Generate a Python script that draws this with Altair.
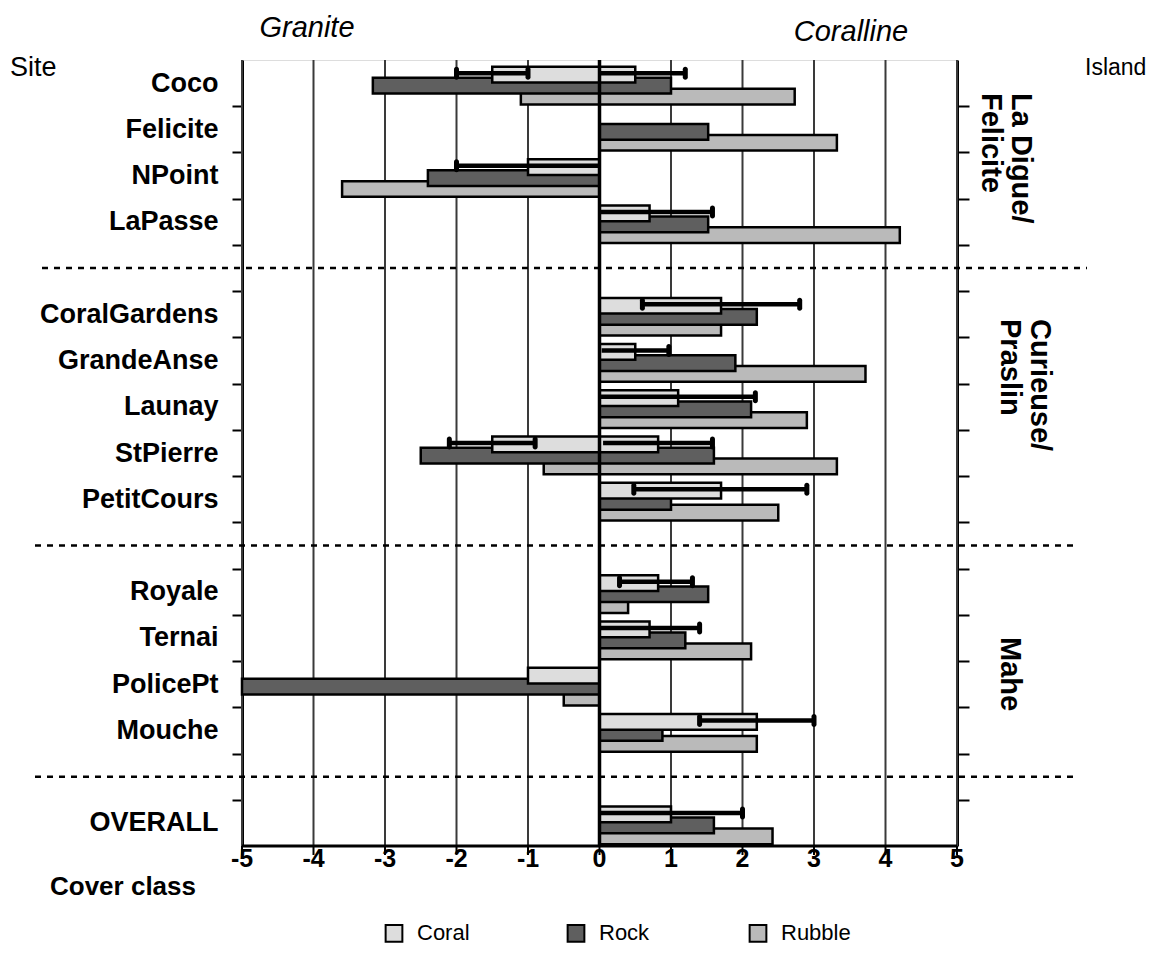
import altair as alt
import pandas as pd

# ---------------- data ----------------
sites = ["Coco", "Felicite", "NPoint", "LaPasse",
         "CoralGardens", "GrandeAnse", "Launay", "StPierre", "PetitCours",
         "Royale", "Ternai", "PolicePt", "Mouche",
         "OVERALL"]
islands = ["La Digue/\nFelicite"] * 4 + ["Curieuse/\nPraslin"] * 5 + ["Mahe"] * 4 + [""]

series = ["Coral", "Rock", "Rubble"]
fills = ["#dddddd", "#5f5f5f", "#bababa"]

# Granite (negative side) and Coralline (positive side) values
coral_granite = [-1.5, None, -1.0, None, None, None, None, -1.5, None, None, None, -1.0, None, None]
coral_coralline = [0.5, None, None, 0.7, 1.7, 0.5, 1.1, 0.82, 1.7, 0.82, 0.7, None, 2.2, 1.0]
rock_granite = [-3.17, None, -2.4, None, None, None, None, -2.5, None, None, None, -5.0, None, None]
rock_coralline = [1.0, 1.52, None, 1.52, 2.2, 1.9, 2.12, 1.6, 1.0, 1.52, 1.2, None, 0.88, 1.6]
rubble_granite = [-1.1, None, -3.6, None, None, None, None, -0.78, None, None, None, -0.5, None, None]
rubble_coralline = [2.73, 3.32, None, 4.2, 1.7, 3.72, 2.9, 3.32, 2.5, 0.4, 2.12, None, 2.2, 2.42]

# error bars on the coral values (low, high)
err_granite_lo = [-2.0, None, -2.0, None, None, None, None, -2.1, None, None, None, None, None, None]
err_granite_hi = [-1.0, None, 0.0, None, None, None, None, -0.9, None, None, None, None, None, None]
err_coralline_lo = [0.0, None, None, 0.0, 0.6, 0.03, 0.02, 0.05, 0.48, 0.28, 0.0, None, 1.4, 0.0]
err_coralline_hi = [1.2, None, None, 1.58, 2.8, 0.97, 2.18, 1.58, 2.9, 1.3, 1.4, None, 3.0, 2.0]

x_ticks = [-5, -4, -3, -2, -1, 0, 1, 2, 3, 4, 5]
x_tick_labels = ["-5", "-4", "-3", "-2", "-1", "0", "1", "2", "3", "4", "5"]

# ---------------- layout helpers ----------------
FONT = "Liberation Sans"
W, H = 715, 786

row_of = []
r = 0
prev = islands[0]
for isl in islands:
    if isl != prev:
        r += 1  # blank separator row
        prev = isl
    row_of.append(r)
    r += 1
n_rows = r
row_labels = [""] * n_rows
for s, rr in zip(sites, row_of):
    row_labels[rr] = s
gap_rows = [i for i in range(n_rows) if row_labels[i] == ""]

offset = {"Coral": 0.315, "Rock": 0.555, "Rubble": 0.79}
half = 0.17

vals = {
    "Coral": (coral_granite, coral_coralline),
    "Rock": (rock_granite, rock_coralline),
    "Rubble": (rubble_granite, rubble_coralline),
}
bar_rows = []
for s in ["Rubble", "Rock", "Coral"]:  # drawing order: coral on top
    g, c = vals[s]
    for i, site in enumerate(sites):
        for v in (g[i], c[i]):
            if v is not None:
                rr = row_of[i]
                bar_rows.append(dict(site=site, series=s, x0=0.0, x1=v,
                                     y0=rr + offset[s] - half, y1=rr + offset[s] + half))
bars_df = pd.DataFrame(bar_rows)

err_rows, cap_rows = [], []
for i, site in enumerate(sites):
    for lo, hi in ((err_granite_lo[i], err_granite_hi[i]), (err_coralline_lo[i], err_coralline_hi[i])):
        if lo is None:
            continue
        yc = row_of[i] + offset["Coral"] - 0.03
        err_rows.append(dict(lo=lo, hi=hi, yc=yc))
        for v in (lo, hi):
            if abs(v) > 0.05:
                cap_rows.append(dict(v=v, yc=yc))
err_df = pd.DataFrame(err_rows)
cap_df = pd.DataFrame(cap_rows)

sep_y = [g + 0.5 for g in gap_rows]
xt_df = pd.DataFrame({"t": x_ticks, "lab": x_tick_labels})

xscale = alt.Scale(domain=[-5, 5], nice=False, zero=False)
yscale = alt.Scale(domain=[0, n_rows], reverse=True, nice=False, zero=False)

label_js = "[" + ",".join("'" + l + "'" for l in row_labels) + "]"
row_px = H / n_rows

# ---------------- layers ----------------
# vertical grid lines, x ticks and x tick labels through the x scale
grid = alt.Chart(xt_df).mark_rule(color="#3a3a3a", strokeWidth=2).encode(
    x=alt.X("t:Q", scale=xscale, axis=None)
)
xticks = alt.Chart(xt_df).mark_rule(color="black", strokeWidth=2).encode(
    x=alt.X("t:Q", scale=xscale, axis=None), y=alt.value(H), y2=alt.value(H + 9)
)
xlabels = alt.Chart(xt_df).mark_text(font=FONT, fontSize=25, fontWeight="bold", color="black",
                                     baseline="middle", align="center").encode(
    x=alt.X("t:Q", scale=xscale, axis=None), y=alt.value(H + 13), text="lab:N"
)
bottom_line = alt.Chart(xt_df.head(1)).mark_rule(color="black", strokeWidth=3).encode(
    x=alt.value(0), x2=alt.value(W), y=alt.value(H)
)

bars = alt.Chart(bars_df).mark_rect(stroke="black", strokeWidth=2.5).encode(
    x=alt.X("x0:Q", scale=xscale, axis=None),
    x2="x1:Q",
    y=alt.Y("y0:Q", scale=yscale, title=None,
            axis=alt.Axis(orient="left", values=list(range(0, n_rows)), grid=False,
                          tickSize=10, tickWidth=2, tickColor="black",
                          tickOpacity=alt.condition("datum.value == 0", alt.value(0), alt.value(1)),
                          domainColor="black", domainWidth=3,
                          labelExpr=label_js + "[datum.value]",
                          labelOffset=row_px / 2, labelPadding=14,
                          labelFont=FONT, labelFontSize=27, labelFontWeight="bold",
                          labelColor="black", labelAlign="right")),
    y2="y1:Q",
    color=alt.Color("series:N", scale=alt.Scale(domain=series, range=fills),
                    legend=alt.Legend(orient="none", legendX=141, legendY=862,
                                      direction="horizontal", title=None,
                                      symbolType="square", symbolSize=280,
                                      symbolStrokeColor="black", symbolStrokeWidth=2,
                                      symbolOpacity=1,
                                      labelFont=FONT, labelFontSize=22, labelColor="black",
                                      labelOffset=12, columnPadding=76, gridAlign="all",
                                      padding=0)),
)

zero_line = alt.Chart(pd.DataFrame({"z": [0]})).mark_rule(color="black", strokeWidth=3.5).encode(
    x=alt.X("z:Q", scale=xscale, axis=None)
)

err = alt.Chart(err_df).mark_rule(color="black", strokeWidth=4.5).encode(
    x=alt.X("lo:Q", scale=xscale, axis=None), x2="hi:Q",
    y=alt.Y("yc:Q", scale=yscale, axis=None),
)
caps = alt.Chart(cap_df).mark_tick(color="black", orient="vertical", size=13,
                                   thickness=5, cornerRadius=2.5, opacity=1).encode(
    x=alt.X("v:Q", scale=xscale, axis=None),
    y=alt.Y("yc:Q", scale=yscale, axis=None),
)

# dashed separators extend beyond the plot area (pixel extents); rows via the y scale
right_axis = alt.Axis(orient="right", values=list(range(1, n_rows)), labels=False,
                      grid=False, tickSize=12, tickWidth=2, tickColor="black",
                      domainColor="black", domainWidth=3)
sep_first = alt.Chart(pd.DataFrame({"ypos": sep_y[:1]})).mark_rule(
    color="black", strokeWidth=2.5, strokeDash=[6, 6]).encode(
    x=alt.value(-200), x2=alt.value(845),
    y=alt.Y("ypos:Q", scale=yscale, title=None, axis=right_axis),
)
sep_rest = alt.Chart(pd.DataFrame({"ypos": sep_y[1:]})).mark_rule(
    color="black", strokeWidth=2.5, strokeDash=[6, 6]).encode(
    x=alt.value(-207), x2=alt.value(833),
    y=alt.Y("ypos:Q", scale=yscale, axis=None),
)

def txt(text, x, y, **kw):
    return alt.Chart(pd.DataFrame({"t": [text]})).mark_text(font=FONT, color="black", **kw).encode(
        x=alt.value(x), y=alt.value(y), text="t:N")

annots = [
    txt("Site", -232, 8, fontSize=27, align="left", baseline="middle"),
    txt("Island", 843, 8, fontSize=23, align="left", baseline="middle"),
    txt("Granite", 65, -32, fontSize=29, fontStyle="italic", align="center", baseline="middle"),
    txt("Coralline", 609, -28, fontSize=29, fontStyle="italic", align="center", baseline="middle"),
    txt("Cover class", -192, 827, fontSize=26, fontWeight="bold", align="left", baseline="middle"),
]

isl_first = {}
for isl, rr in zip(islands, row_of):
    if isl and isl not in isl_first:
        isl_first[isl] = rr
isl_x = [779, 798, 768]
isl_y = [33, 259, 577]
for (isl, _), xx, yy in zip(isl_first.items(), isl_x, isl_y):
    annots.append(txt(isl, xx, yy, fontSize=29, fontWeight="bold", angle=90,
                      align="left", baseline="middle", lineBreak="\n", lineHeight=30))

chart = alt.layer(grid, bars, zero_line, err, caps, sep_first, sep_rest,
                  xticks, xlabels, bottom_line, *annots).resolve_axis(
    y="independent"
).properties(
    width=W, height=H,
    autosize=alt.AutoSizeParams(type="none"),
    padding={"left": 234, "top": 52, "right": 206, "bottom": 120},
).configure_view(stroke="black", strokeWidth=2.5).configure(font=FONT)

chart.save("out.html", embed_options={"renderer": "svg", "actions": False})
